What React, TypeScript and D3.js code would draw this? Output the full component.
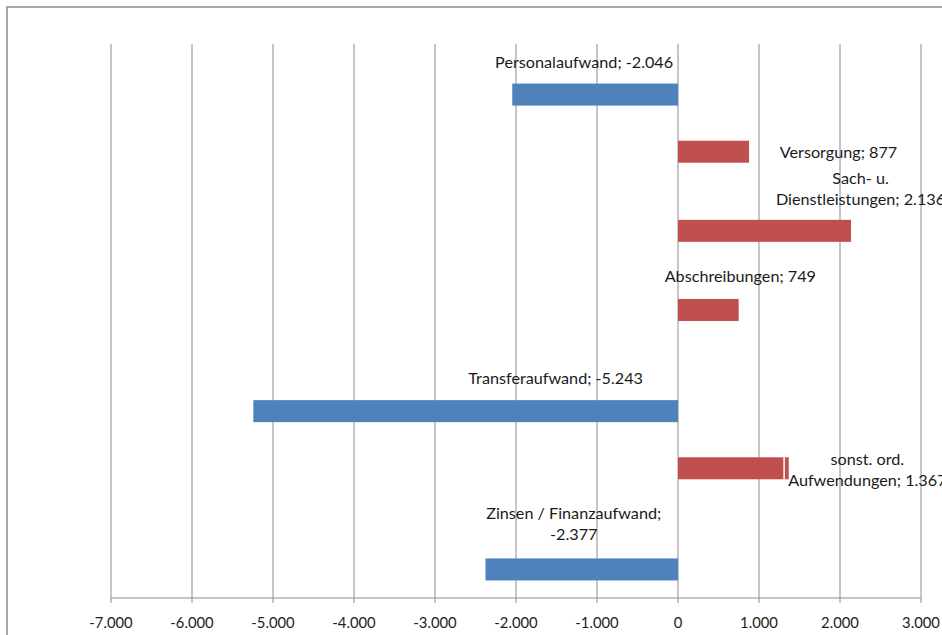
import { useEffect, useRef } from 'react'
import * as d3 from 'd3'

const W = 942
const H = 635
const MARGIN = { top: 44, right: 21, bottom: 37, left: 111 }

const categories = [
  'Personalaufwand',
  'Versorgung',
  'Sach- u. Dienstleistungen',
  'Abschreibungen',
  'Transferaufwand',
  'sonst. ord. Aufwendungen',
  'Zinsen / Finanzaufwand',
]
const values = [-2046, 877, 2136, 749, -5243, 1367, -2377]
const labelLines = [
  ['Personalaufwand; -2.046'],
  ['Versorgung; 877'],
  ['Sach- u.', 'Dienstleistungen; 2.136'],
  ['Abschreibungen; 749'],
  ['Transferaufwand; -5.243'],
  ['sonst. ord.', 'Aufwendungen; 1.367'],
  ['Zinsen / Finanzaufwand;', '-2.377'],
]
// white seam inside the "sonst. ord." bar, as in the original export
const seams = [null, null, null, null, null, 1310, null]
const xTicks = [-7000, -6000, -5000, -4000, -3000, -2000, -1000, 0, 1000, 2000, 3000]

// label placement: offset from bar centre (px)
const LABEL_POS = [
  { dx: -11, dy: [-33] },
  { dx: 125, dy: [0] },
  { dx: 96, dy: [-53, -32] },
  { dx: 32, dy: [-34] },
  { dx: 90, dy: [-34] },
  { dx: 134, dy: [-10, 11] },
  { dx: -8, dy: [-57, -36] },
]

const NEG = '#4f81bd'
const POS = '#c0504d'
const GRID = '#8c8c8c'
const FONT = 'Lato, "Open Sans", sans-serif'

const de = d3.formatLocale({ decimal: ',', thousands: '.', grouping: [3], currency: ['', ' €'], minus: '-' })
const fmt = de.format(',d')

export default function App() {
  const svgRef = useRef<SVGSVGElement>(null)

  useEffect(() => {
    if (!svgRef.current) return
    const svg = d3.select(svgRef.current)
    svg.selectAll('*').remove()

    const x = d3.scaleLinear().domain([-7000, 3000]).range([MARGIN.left, W - MARGIN.right])
    const y = d3.scaleBand<string>().domain(categories).range([MARGIN.top, H - MARGIN.bottom])
    const barH = y.bandwidth() * 0.278
    const axisY = H - MARGIN.bottom

    // outer frame
    svg.append('rect')
      .attr('x', 7).attr('y', 7).attr('width', W + 20).attr('height', H + 20)
      .attr('fill', 'none').attr('stroke', '#8a8a8a').attr('stroke-width', 1.5)

    const g = svg.append('g')

    g.selectAll('line.grid')
      .data(xTicks)
      .join('line')
      .attr('class', 'grid')
      .attr('x1', d => x(d)).attr('x2', d => x(d))
      .attr('y1', MARGIN.top).attr('y2', axisY + 5)
      .attr('stroke', GRID).attr('stroke-width', 1)

    g.append('line')
      .attr('x1', x(-7000)).attr('x2', x(3000))
      .attr('y1', axisY).attr('y2', axisY)
      .attr('stroke', GRID).attr('stroke-width', 1)

    g.selectAll('text.tick')
      .data(xTicks)
      .join('text')
      .attr('class', 'tick')
      .attr('x', d => x(d)).attr('y', axisY + 24)
      .attr('text-anchor', 'middle').attr('dominant-baseline', 'central')
      .style('font-family', FONT).style('font-size', '14.8px').style('fill', '#222')
      .text(d => fmt(d))

    const rows = categories.map((c, i) => ({ c, v: values[i], i }))
    const barY = (d: { c: string; v: number }) =>
      (y(d.c) ?? 0) + y.bandwidth() / 2 + (d.v < 0 ? 0 : -barH)

    g.selectAll('rect.bar')
      .data(rows)
      .join('rect')
      .attr('class', 'bar')
      .attr('x', d => Math.min(x(0), x(d.v)))
      .attr('width', d => Math.abs(x(d.v) - x(0)))
      .attr('y', d => barY(d))
      .attr('height', barH)
      .attr('fill', d => (d.v < 0 ? NEG : POS))

    g.selectAll('line.seam')
      .data(rows.filter(d => seams[d.i] != null))
      .join('line')
      .attr('class', 'seam')
      .attr('x1', d => x(seams[d.i] as number)).attr('x2', d => x(seams[d.i] as number))
      .attr('y1', d => barY(d)).attr('y2', d => barY(d) + barH)
      .attr('stroke', '#fff').attr('stroke-width', 1.5)

    rows.forEach(d => {
      const cx = (x(0) + x(d.v)) / 2
      const cy = barY(d) + barH / 2
      const pos = LABEL_POS[d.i]
      labelLines[d.i].forEach((line, j) => {
        g.append('text')
          .attr('x', cx + pos.dx).attr('y', cy + pos.dy[j])
          .attr('text-anchor', 'middle').attr('dominant-baseline', 'central')
          .style('font-family', FONT).style('font-size', '16.2px').style('fill', '#1a1a1a')
          .text(line)
      })
    })
  }, [])

  return (
    <svg
      ref={svgRef}
      width={W}
      height={H}
      style={{ position: 'absolute', left: 0, top: 0, background: '#fff' }}
    />
  )
}
